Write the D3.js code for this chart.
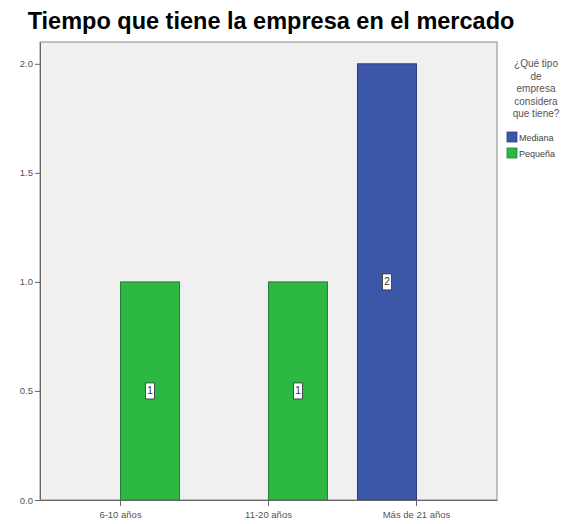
<!DOCTYPE html>
<html>
<head>
<meta charset="utf-8">
<script src="https://cdn.jsdelivr.net/npm/d3@7/dist/d3.min.js"></script>
<style>
  html, body { margin: 0; padding: 0; background: #fff; }
  svg { display: block; font-family: 'Liberation Sans', Arial, sans-serif; }
</style>
</head>
<body>
<svg id="chart" width="575" height="524"></svg>
<script>
// ── Data ─────────────────────────────────────────────
const categories     = ['6-10 años', '11-20 años', 'Más de 21 años'];
const series         = ['Mediana', 'Pequeña'];
const medianaValues  = [0, 0, 2];
const pequenaValues  = [1, 1, 0];
const yTicks         = [0, 0.5, 1, 1.5, 2];
const seriesColors   = ['#3c56a8', '#2db843'];
const seriesStrokes  = ['#2b3c80', '#2a7d36'];
const legendTitle    = ['¿Qué tipo', 'de', 'empresa', 'considera', 'que tiene?'];
const titleText      = 'Tiempo que tiene la empresa en el mercado';

// ── Layout ───────────────────────────────────────────
const plot = { left: 40, right: 497, top: 42, bottom: 500 };
const svg = d3.select('#chart');

const x = d3.scaleBand().domain(categories)
  .range([plot.left, plot.right]).paddingInner(0).paddingOuter(0.044);
const xi = d3.scaleBand().domain(series)
  .range([0, x.bandwidth()]).paddingInner(0).paddingOuter(0.254);
const y = d3.scaleLinear().domain([0, 2.1]).range([plot.bottom, plot.top]);

// plot background
svg.append('rect')
  .attr('x', plot.left).attr('y', plot.top)
  .attr('width', plot.right - plot.left).attr('height', plot.bottom - plot.top)
  .attr('fill', '#f0f0f0').attr('stroke', '#8a8a8a').attr('stroke-width', 1);

// ── Bars ─────────────────────────────────────────────
const rows = [];
categories.forEach((c, i) => {
  rows.push({ cat: c, s: 0, v: medianaValues[i] });
  rows.push({ cat: c, s: 1, v: pequenaValues[i] });
});
const bars = rows.filter(d => d.v > 0);

svg.append('g').selectAll('rect').data(bars).join('rect')
  .attr('x', d => x(d.cat) + xi(series[d.s]))
  .attr('y', d => y(d.v))
  .attr('width', xi.bandwidth())
  .attr('height', d => y(0) - y(d.v))
  .attr('fill', d => seriesColors[d.s])
  .attr('stroke', d => seriesStrokes[d.s])
  .attr('stroke-width', 1);

// value labels in white boxes
const lab = svg.append('g').selectAll('g').data(bars).join('g')
  .attr('transform', d => `translate(${x(d.cat) + xi(series[d.s]) + xi.bandwidth() / 2},${y(d.v / 2)})`);
lab.append('rect')
  .attr('x', -4.5).attr('y', -8).attr('width', 9).attr('height', 16)
  .attr('fill', '#ffffff').attr('stroke', '#333').attr('stroke-width', 0.8);
lab.append('text')
  .attr('text-anchor', 'middle').attr('dy', '0.35em')
  .attr('font-size', '10px').attr('fill', '#333')
  .text(d => d.v);

// ── Axes ─────────────────────────────────────────────
const yAxis = svg.append('g')
  .attr('transform', `translate(${plot.left},0)`)
  .call(d3.axisLeft(y).tickValues(yTicks).tickFormat(d3.format('.1f'))
    .tickSize(5).tickSizeOuter(0).tickPadding(2));
const xAxis = svg.append('g')
  .attr('transform', `translate(0,${plot.bottom})`)
  .call(d3.axisBottom(x).tickSize(6).tickSizeOuter(0).tickPadding(5));

[yAxis, xAxis].forEach(a => {
  a.select('.domain').attr('stroke', '#666');
  a.selectAll('.tick line').attr('stroke', '#666');
  a.selectAll('.tick text').attr('fill', '#555').attr('font-size', '9.5px')
    .attr('font-family', "'Liberation Sans', Arial, sans-serif");
});

// ── Title ────────────────────────────────────────────
svg.append('text')
  .attr('x', 271).attr('y', 29)
  .attr('text-anchor', 'middle')
  .attr('font-size', '23.5px').attr('font-weight', 'bold').attr('fill', '#000')
  .text(titleText);

// ── Legend ───────────────────────────────────────────
const leg = svg.append('g');
leg.selectAll('text.lt').data(legendTitle).join('text')
  .attr('class', 'lt')
  .attr('x', 536).attr('y', (d, i) => 67 + i * 12.5)
  .attr('text-anchor', 'middle')
  .attr('font-size', '10px').attr('fill', '#555')
  .text(d => d);

const items = leg.selectAll('g.item').data(series).join('g')
  .attr('class', 'item')
  .attr('transform', (d, i) => `translate(507,${132 + i * 16})`);
items.append('rect')
  .attr('width', 10).attr('height', 10)
  .attr('fill', (d, i) => seriesColors[i])
  .attr('stroke', (d, i) => seriesStrokes[i]).attr('stroke-width', 0.8);
items.append('text')
  .attr('x', 12).attr('y', 8.5)
  .attr('font-size', '9px').attr('fill', '#444')
  .text(d => d);
</script>
</body>
</html>
